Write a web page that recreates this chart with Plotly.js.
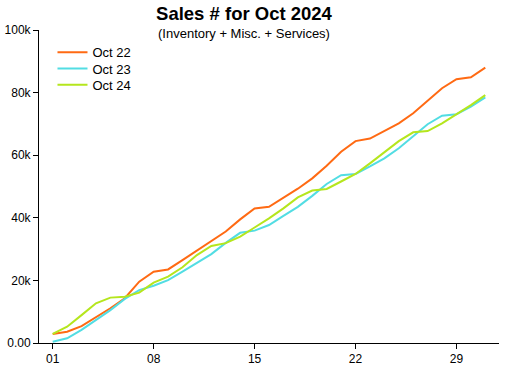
<!DOCTYPE html>
<html>
<head>
<meta charset="utf-8">
<script src="https://cdn.plot.ly/plotly-3.0.1.min.js"></script>
<style>html,body{margin:0;padding:0;background:#fff;}#chart{width:510px;height:368px;}</style>
</head>
<body>
<div id="chart"></div>
<script>
const days = [1,2,3,4,5,6,7,8,9,10,11,12,13,14,15,16,17,18,19,20,21,22,23,24,25,26,27,28,29,30,31];
const oct22 = [2.9,3.6,5.4,8.2,11.1,14.3,19.6,22.8,23.5,26.5,29.5,32.4,35.6,39.5,43.0,43.5,46.5,49.3,52.6,56.6,61.1,64.5,65.3,67.7,70.2,73.4,77.4,81.4,84.3,84.9,88.0];
const oct23 = [0.4,1.5,4.2,7.3,10.5,14.1,16.9,18.3,20.1,22.8,25.5,28.4,32.0,35.2,35.9,37.7,40.6,43.5,47.0,50.8,53.6,54.0,56.4,59.0,62.2,65.9,69.9,72.6,73.1,75.5,78.5];
const oct24 = [2.9,5.2,8.9,12.7,14.5,14.8,16.1,19.3,21.2,24.2,28.1,31.0,31.9,34.0,36.9,39.8,43.0,46.5,48.7,49.2,51.6,54.0,57.4,60.9,64.5,67.3,67.7,70.2,73.1,76.0,79.2];
const seriesNames = ['Oct 22','Oct 23','Oct 24'];
const xTickVals = [1,8,15,22,29];
const xTickText = ['01','08','15','22','29'];
const yTickVals = [0,20,40,60,80,100];
const yTickText = ['0.00','20k','40k','60k','80k','100k'];

const colors = ['#ff6a13','#52dde3','#b5e61d'];
const legendIds = ['legend','legend2','legend3'];
const data = [oct22, oct23, oct24].map((ys, i) => ({
  x: days, y: ys, type: 'scatter', mode: 'lines', name: seriesNames[i],
  legend: legendIds[i],
  line: {color: colors[i], width: 2}
}));

const font = 'Liberation Sans, Arial, sans-serif';
const plotTop = 30, plotH = 313, plotL = 38.5, plotW = 460.5;
function legendAt(topPx) {
  return {x: (52 - plotL)/plotW, y: 1 - (topPx - plotTop)/plotH, xanchor: 'left', yanchor: 'top',
    bgcolor: 'rgba(0,0,0,0)', borderwidth: 0, font: {family: font, size: 13, color: '#000'}};
}
const layout = {
  width: 510, height: 368,
  margin: {l: plotL, r: 11, t: plotTop, b: 25},
  paper_bgcolor: '#fff', plot_bgcolor: '#fff',
  font: {family: font, size: 12, color: '#000'},
  showlegend: true,
  legend: legendAt(37.3),
  legend2: legendAt(53.6),
  legend3: legendAt(69.9),
  title: {text: '<b>Sales # for Oct 2024</b>', x: 244/510, xref: 'container', xanchor: 'center',
    y: 1 - 14/368, yanchor: 'middle', font: {family: font, size: 18.5, color: '#000'}},
  annotations: [{text: '(Inventory + Misc. + Services)', xref: 'paper', yref: 'paper',
    x: (244 - plotL)/plotW, y: 1 - (33.5 - plotTop)/plotH, xanchor: 'center', yanchor: 'middle', showarrow: false,
    font: {family: font, size: 13, color: '#000'}}],
  xaxis: {range: [0.05, 31.95], tickvals: xTickVals, ticktext: xTickText, showgrid: false, zeroline: false,
    showline: true, linecolor: '#000', linewidth: 1, ticks: 'outside', ticklen: 5, tickcolor: '#000',
    tickfont: {family: font, size: 12, color: '#000'}},
  yaxis: {range: [0, 100], tickvals: yTickVals, ticktext: yTickText, showgrid: false, zeroline: false,
    showline: true, linecolor: '#000', linewidth: 1, ticks: 'outside', ticklen: 5, tickcolor: '#000',
    tickfont: {family: font, size: 12, color: '#000'}}
};
Plotly.newPlot('chart', data, layout, {displayModeBar: false, staticPlot: true});
</script>
</body>
</html>
